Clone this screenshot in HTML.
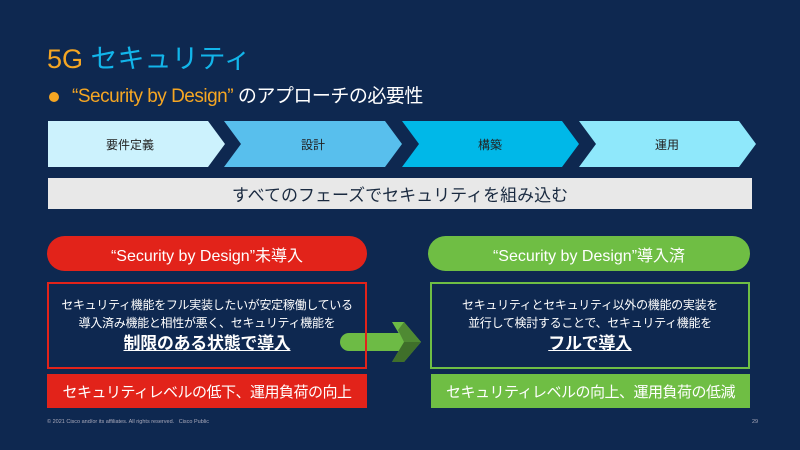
<!DOCTYPE html>
<html><head><meta charset="utf-8"><style>
body{margin:0;width:800px;height:450px;background:#0e2850;position:relative;overflow:hidden;font-family:"Liberation Sans","Noto Sans CJK JP",sans-serif;}
.a{position:absolute;}
.c{display:flex;align-items:center;justify-content:center;text-align:center;white-space:nowrap;}
</style></head><body>
<div class="a" style="left:47px;top:42px;font-size:27px;color:#f5a623;line-height:34px">5G <span style="color:#12b5ea">セキュリティ</span></div>
<div class="a" style="left:49px;top:92px;width:10px;height:10px;border-radius:50%;background:#f5a623"></div>
<div class="a" style="left:72px;top:84px;font-size:19px;color:#fff;line-height:26px;letter-spacing:-0.5px"><span style="color:#f5a623">“Security by Design”</span> のアプローチの必要性</div>
<svg class="a" style="left:0;top:0" width="800" height="450">
<polygon points="48,121 208,121 225,144 208,167 48,167" fill="#ccf2fd"/>
<polygon points="224,121 385,121 402,144 385,167 224,167 241,144" fill="#58bfed"/>
<polygon points="402,121 562,121 579,144 562,167 402,167 419,144" fill="#00b8e8"/>
<polygon points="579,121 739,121 756,144 739,167 579,167 596,144" fill="#8fe8fb"/>
<text x="130" y="149" font-size="12" fill="#222" text-anchor="middle" font-family="Liberation Sans, Noto Sans CJK JP, sans-serif">要件定義</text>
<text x="313" y="149" font-size="12" fill="#222" text-anchor="middle" font-family="Liberation Sans, Noto Sans CJK JP, sans-serif">設計</text>
<text x="490" y="149" font-size="12" fill="#222" text-anchor="middle" font-family="Liberation Sans, Noto Sans CJK JP, sans-serif">構築</text>
<text x="667" y="149" font-size="12" fill="#222" text-anchor="middle" font-family="Liberation Sans, Noto Sans CJK JP, sans-serif">運用</text>
<line x1="349" y1="342" x2="400" y2="342" stroke="#6dbb45" stroke-width="18" stroke-linecap="round"/>
<polygon points="392,322 404,322 421,342 404,362 392,362 404,342" fill="#6dbb45"/>
<polygon points="404,342 421,342 404,362 392,362" fill="#3f6f2a"/>
<polygon points="398,330 404,322 421,342 404,342" fill="#4f8a33"/>
</svg>
<div class="a c" style="left:48px;top:178px;width:704px;height:31px;background:#e8e8e8;color:#1a2a40;font-size:17px">すべてのフェーズでセキュリティを組み込む</div>
<div class="a c" style="left:47px;top:236px;width:320px;height:35px;border-radius:18px;background:#e2231a;color:#fff;font-size:16px">“Security by Design”未導入</div>
<div class="a c" style="left:428px;top:236px;width:322px;height:35px;border-radius:18px;background:#6fbe44;color:#fff;font-size:16px">“Security by Design”導入済</div>
<div class="a c" style="left:47px;top:282px;width:316px;height:83px;border:2px solid #e2231a;color:#fff;font-size:12px;line-height:18px;flex-direction:column;letter-spacing:-0.3px">
<div>セキュリティ機能をフル実装したいが安定稼働している<br>導入済み機能と相性が悪く、セキュリティ機能を</div>
<div style="font-size:17px;font-weight:bold;text-decoration:underline;line-height:24px">制限のある状態で導入</div></div>
<div class="a c" style="left:430px;top:282px;width:316px;height:83px;border:2px solid #6fbe44;color:#fff;font-size:12px;line-height:18px;flex-direction:column;letter-spacing:-0.3px">
<div>セキュリティとセキュリティ以外の機能の実装を<br>並行して検討することで、セキュリティ機能を</div>
<div style="font-size:17px;font-weight:bold;text-decoration:underline;line-height:24px">フルで導入</div></div>
<div class="a c" style="left:47px;top:374px;width:320px;height:34px;background:#e2231a;color:#fff;font-size:15px;letter-spacing:-0.5px">セキュリティレベルの低下、運用負荷の向上</div>
<div class="a c" style="left:431px;top:374px;width:319px;height:34px;background:#6fbe44;color:#fff;font-size:15px;letter-spacing:-0.5px">セキュリティレベルの向上、運用負荷の低減</div>
<div class="a" style="left:47px;top:419px;font-size:5.5px;color:#aab">© 2021 Cisco and/or its affiliates. All rights reserved. &nbsp; Cisco Public</div>
<div class="a" style="left:752px;top:419px;font-size:5.5px;color:#aab">29</div>
</body></html>
